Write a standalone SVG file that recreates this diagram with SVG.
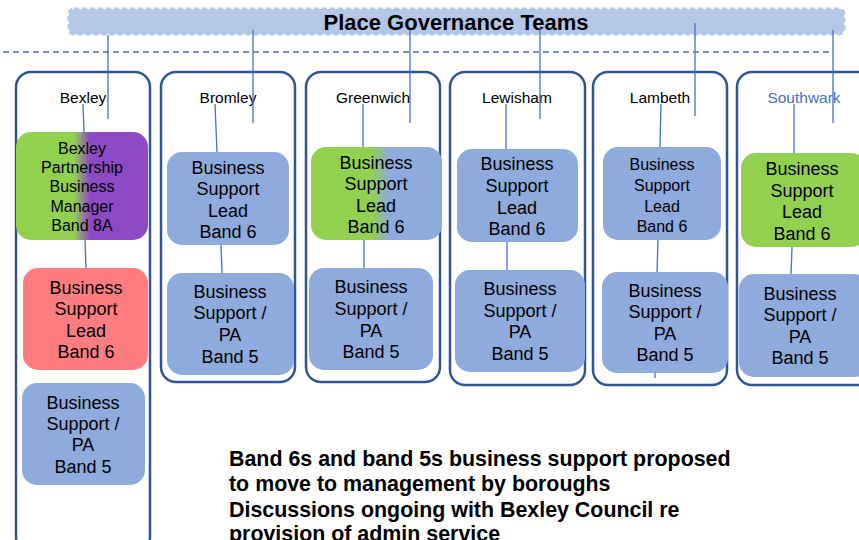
<svg xmlns="http://www.w3.org/2000/svg" width="859" height="540" viewBox="0 0 859 540">
<defs>
<style>
.col{fill:#fff;stroke:#2f5597;stroke-width:2.5}
.lbl{font-family:"Liberation Sans",Arial,sans-serif;font-size:15.5px;fill:#000;text-anchor:middle}
.t{font-family:"Liberation Sans",Arial,sans-serif;font-size:18px;fill:#000;text-anchor:middle}
.t14{font-family:"Liberation Sans",Arial,sans-serif;font-size:16px;fill:#000;text-anchor:middle}
.blue{fill:#8faadc}
.conn line{stroke:#4472c4;stroke-width:1.3}
.note{font-family:"Liberation Sans",Arial,sans-serif;font-size:21.4px;font-weight:bold;fill:#000}
</style>
<linearGradient id="gp" x1="0" y1="0" x2="1" y2="0">
<stop offset="0.44" stop-color="#92d050"/>
<stop offset="0.56" stop-color="#8e4ac4"/>
</linearGradient>
<linearGradient id="gb" x1="0" y1="0" x2="1" y2="0">
<stop offset="0.46" stop-color="#92d050"/>
<stop offset="0.6" stop-color="#8faadc"/>
</linearGradient>
</defs>

<g id="header">
<rect x="69" y="9" width="775" height="25" rx="5" fill="#b4c7e7" stroke="#b4c7e7" stroke-width="3" stroke-dasharray="5,3"/>
<text x="456" y="30" style="font-family:'Liberation Sans',Arial,sans-serif;font-size:22px;font-weight:bold;text-anchor:middle">Place Governance Teams</text>
</g>

<g id="divider">
<line x1="3" y1="52" x2="832" y2="52" stroke="#4472c4" stroke-width="1.3" stroke-dasharray="6,4"/>
</g>

<g id="col-bexley">
<rect class="col" x="16" y="72" width="134" height="480" rx="15"/>
<text class="lbl" x="83" y="103">Bexley</text>
</g>
<g id="col-bromley">
<rect class="col" x="161" y="72" width="134" height="310" rx="15"/>
<text class="lbl" x="228" y="103">Bromley</text>
</g>
<g id="col-greenwich">
<rect class="col" x="306" y="72" width="134" height="310" rx="15"/>
<text class="lbl" x="373" y="103">Greenwich</text>
</g>
<g id="col-lewisham">
<rect class="col" x="450" y="72" width="135" height="313" rx="15"/>
<text class="lbl" x="517" y="103">Lewisham</text>
</g>
<g id="col-lambeth">
<rect class="col" x="593" y="72" width="134" height="313" rx="15"/>
<text class="lbl" x="660" y="103">Lambeth</text>
</g>
<g id="col-southwark">
<rect class="col" x="737" y="72" width="140" height="313" rx="15"/>
<text class="lbl" x="804" y="103" style="fill:#4472c4">Southwark</text>
</g>

<g id="connectors" class="conn">
<line x1="108" y1="35" x2="108" y2="119"/>
<line x1="253" y1="30" x2="253" y2="123"/>
<line x1="410" y1="30" x2="410" y2="123"/>
<line x1="540" y1="28" x2="540" y2="119"/>
<line x1="695" y1="23" x2="695" y2="116"/>
<line x1="833" y1="30" x2="833" y2="123"/>
<line x1="83" y1="104" x2="84" y2="132"/>
<line x1="215" y1="104" x2="217" y2="152"/>
<line x1="363" y1="104" x2="363" y2="147"/>
<line x1="506" y1="104" x2="506" y2="149"/>
<line x1="661" y1="104" x2="660" y2="147"/>
<line x1="794" y1="104" x2="794" y2="153"/>
<line x1="85" y1="240" x2="86" y2="268"/>
<line x1="221" y1="245" x2="222" y2="273"/>
<line x1="364" y1="240" x2="364" y2="268"/>
<line x1="507" y1="242" x2="507" y2="270"/>
<line x1="658" y1="240" x2="657" y2="272"/>
<line x1="655" y1="373" x2="655" y2="378"/>
<line x1="792" y1="247" x2="791" y2="275"/>
</g>

<g id="bexley-8a">
<rect x="16" y="132" width="132" height="108" rx="15" fill="url(#gp)"/>
<text class="t14"><tspan x="82" y="154">Bexley</tspan><tspan x="82" y="173">Partnership</tspan><tspan x="82" y="192">Business</tspan><tspan x="82" y="212">Manager</tspan><tspan x="82" y="231">Band 8A</tspan></text>
</g>
<g id="bexley-lead">
<rect x="23" y="268" width="125" height="102" rx="15" fill="#ff7c80"/>
<text class="t"><tspan x="86" y="294">Business</tspan><tspan x="86" y="315">Support</tspan><tspan x="86" y="337">Lead</tspan><tspan x="86" y="358">Band 6</tspan></text>
</g>
<g id="bexley-b5">
<rect class="blue" x="22" y="383" width="123" height="102" rx="15"/>
<text class="t"><tspan x="83" y="409">Business</tspan><tspan x="83" y="430">Support /</tspan><tspan x="83" y="451">PA</tspan><tspan x="83" y="473">Band 5</tspan></text>
</g>

<g id="bromley-lead">
<rect class="blue" x="167" y="152" width="122" height="93" rx="15"/>
<text class="t"><tspan x="228" y="174">Business</tspan><tspan x="228" y="195">Support</tspan><tspan x="228" y="217">Lead</tspan><tspan x="228" y="238">Band 6</tspan></text>
</g>
<g id="bromley-b5">
<rect class="blue" x="167" y="273" width="127" height="102" rx="15"/>
<text class="t"><tspan x="230" y="298">Business</tspan><tspan x="230" y="319">Support /</tspan><tspan x="230" y="341">PA</tspan><tspan x="230" y="363">Band 5</tspan></text>
</g>

<g id="greenwich-lead">
<rect x="311" y="147" width="131" height="93" rx="15" fill="url(#gb)"/>
<text class="t"><tspan x="376" y="169">Business</tspan><tspan x="376" y="190">Support</tspan><tspan x="376" y="212">Lead</tspan><tspan x="376" y="233">Band 6</tspan></text>
</g>
<g id="greenwich-b5">
<rect class="blue" x="309" y="268" width="124" height="102" rx="15"/>
<text class="t"><tspan x="371" y="293">Business</tspan><tspan x="371" y="315">Support /</tspan><tspan x="371" y="337">PA</tspan><tspan x="371" y="358">Band 5</tspan></text>
</g>

<g id="lewisham-lead">
<rect class="blue" x="457" y="149" width="121" height="93" rx="15"/>
<text class="t"><tspan x="517" y="170">Business</tspan><tspan x="517" y="192">Support</tspan><tspan x="517" y="214">Lead</tspan><tspan x="517" y="235">Band 6</tspan></text>
</g>
<g id="lewisham-b5">
<rect class="blue" x="455" y="270" width="130" height="102" rx="15"/>
<text class="t"><tspan x="520" y="295">Business</tspan><tspan x="520" y="317">Support /</tspan><tspan x="520" y="338">PA</tspan><tspan x="520" y="360">Band 5</tspan></text>
</g>

<g id="lambeth-lead">
<rect class="blue" x="603" y="147" width="118" height="93" rx="15"/>
<text class="t14"><tspan x="662" y="170">Business</tspan><tspan x="662" y="191">Support</tspan><tspan x="662" y="212">Lead</tspan><tspan x="662" y="232">Band 6</tspan></text>
</g>
<g id="lambeth-b5">
<rect class="blue" x="602" y="272" width="126" height="101" rx="15"/>
<text class="t"><tspan x="665" y="297">Business</tspan><tspan x="665" y="318">Support /</tspan><tspan x="665" y="340">PA</tspan><tspan x="665" y="361">Band 5</tspan></text>
</g>

<g id="southwark-lead">
<rect x="741" y="153" width="125" height="94" rx="15" fill="#92d050"/>
<text class="t"><tspan x="802" y="175">Business</tspan><tspan x="802" y="197">Support</tspan><tspan x="802" y="218">Lead</tspan><tspan x="802" y="240">Band 6</tspan></text>
</g>
<g id="southwark-b5">
<rect class="blue" x="739" y="274" width="130" height="103" rx="15"/>
<text class="t"><tspan x="800" y="300">Business</tspan><tspan x="800" y="321">Support /</tspan><tspan x="800" y="343">PA</tspan><tspan x="800" y="364">Band 5</tspan></text>
</g>

<g id="note">
<text class="note"><tspan x="229" y="466">Band 6s and band 5s business support proposed</tspan><tspan x="229" y="491">to move to management by boroughs</tspan><tspan x="229" y="517">Discussions ongoing with Bexley Council re</tspan><tspan x="229" y="541">provision of admin service</tspan></text>
</g>
</svg>
